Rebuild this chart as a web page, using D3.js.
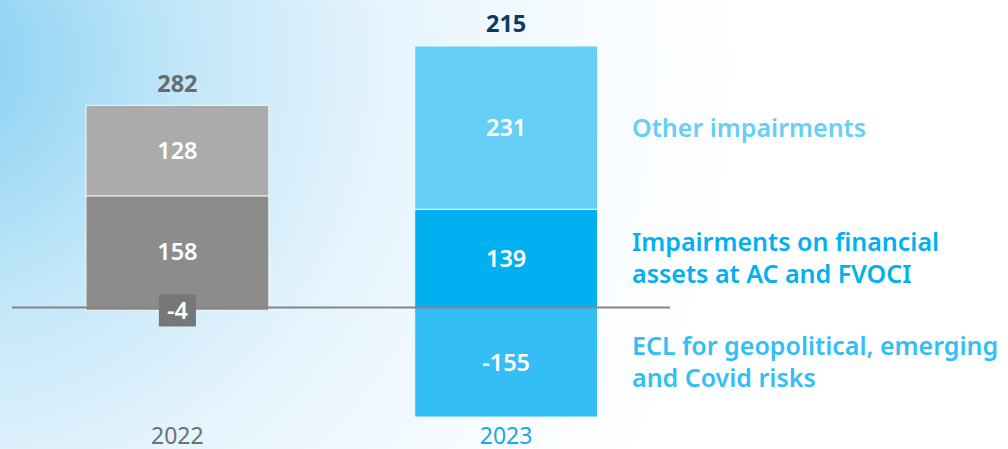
<!DOCTYPE html>
<html>
<head>
<meta charset="utf-8">
<script src="https://cdn.jsdelivr.net/npm/d3@7"></script>
<style>
  html, body { margin: 0; padding: 0; background: #fff; }
  svg { display: block; }
  text { font-family: "Noto Sans", "Open Sans", sans-serif; }
</style>
</head>
<body>
<svg id="chart" width="1008" height="449"></svg>
<script>
// Impairment breakdown by year (EUR m)
const years = ["2022", "2023"];
const seriesKeys = ["ecl", "financial", "other"];
const eclValues = [-4, -155];
const financialValues = [158, 139];
const otherValues = [128, 231];
const totals = [282, 215];
const legendLines = [
  ["Other impairments"],
  ["Impairments on financial", "assets at AC and FVOCI"],
  ["ECL for geopolitical, emerging", "and Covid risks"]
];

// colours: 2022 in greys, 2023 in blues
const palette = {
  "2022": { other: "#ababab", financial: "#8c8c8c", ecl: "#8c8c8c" },
  "2023": { other: "#66cff5", financial: "#00b0f0", ecl: "#33bef5" }
};
const legendColors = ["#66cff5", "#00b0f0", "#33bef5"];
const totalColors = ["#6b6b6b", "#0e3a62"];
const yearColors = ["#707070", "#1aa8e8"];

const rows = years.map((y, i) => ({
  year: y, ecl: eclValues[i], financial: financialValues[i], other: otherValues[i], total: totals[i]
}));

// plain hyphen for negatives
const fmt = v => String(v);

const svg = d3.select("#chart");
const W = 1008, H = 449;

// background wash
const defs = svg.append("defs");
const grad = defs.append("radialGradient")
  .attr("id", "bg").attr("gradientUnits", "userSpaceOnUse")
  .attr("cx", -60).attr("cy", 60).attr("r", 820);
[[0, "#84cff2"], [0.3, "#c2e7f9"], [0.55, "#e6f4fd"], [0.8, "#f8fcff"], [1, "#ffffff"]]
  .forEach(([o, c]) => grad.append("stop").attr("offset", o).attr("stop-color", c));
svg.append("rect").attr("width", W).attr("height", H).attr("fill", "url(#bg)");

const x = d3.scaleBand().domain(years).range([86, 597.5]).paddingInner(0.444).paddingOuter(0);
const y = d3.scaleLinear().domain([-155, 370]).range([417, 46]);

// stacked layout, positive and negative values stacked separately from zero
const stack = d3.stack().keys(seriesKeys).offset(d3.stackOffsetDiverging);
const layers = stack(rows);

const segs = [];
layers.forEach(layer => {
  layer.forEach(d => {
    segs.push({ key: layer.key, year: d.data.year, y0: d[0], y1: d[1], value: d.data[layer.key] });
  });
});

svg.append("g").selectAll("rect").data(segs).join("rect")
  .attr("x", d => x(d.year))
  .attr("width", x.bandwidth())
  .attr("y", d => y(Math.max(d.y0, d.y1)))
  .attr("height", d => Math.abs(y(d.y0) - y(d.y1)))
  .attr("fill", d => palette[d.year][d.key])
  .attr("stroke", "rgba(255,255,255,0.85)")
  .attr("stroke-width", 1);

// zero line
svg.append("line")
  .attr("x1", 12).attr("x2", 670)
  .attr("y1", y(0)).attr("y2", y(0))
  .attr("stroke", "#858585").attr("stroke-width", 2);

// segment value labels
const bigSegs = segs.filter(d => Math.abs(d.value) > 20);
svg.append("g").selectAll("text").data(bigSegs).join("text")
  .attr("x", d => x(d.year) + x.bandwidth() / 2)
  .attr("y", d => (y(d.y0) + y(d.y1)) / 2)
  .attr("dy", "0.36em")
  .attr("text-anchor", "middle")
  .attr("fill", "#fff")
  .attr("font-size", 23.5)
  .attr("font-weight", 600)
  .text(d => fmt(d.value));

// small values get a tag on the zero line
const smallSegs = segs.filter(d => Math.abs(d.value) <= 20);
const tags = svg.append("g").selectAll("g").data(smallSegs).join("g")
  .attr("transform", d => `translate(${x(d.year) + x.bandwidth() / 2},${y(0) + 3})`);
tags.append("rect").attr("x", -18.5).attr("y", -16).attr("width", 37).attr("height", 32).attr("fill", "#777777");
tags.append("text")
  .attr("dy", "0.36em").attr("text-anchor", "middle")
  .attr("fill", "#fff").attr("font-size", 23.5).attr("font-weight", 600)
  .text(d => fmt(d.value));

// totals above bars
svg.append("g").selectAll("text").data(rows).join("text")
  .attr("x", d => x(d.year) + x.bandwidth() / 2)
  .attr("y", d => y(d.ecl < 0 ? d.financial + d.other : d.total) - 22)
  .attr("dy", "0.36em")
  .attr("text-anchor", "middle")
  .attr("fill", (d, i) => totalColors[i])
  .attr("font-size", 23.5)
  .attr("font-weight", 700)
  .text(d => d.total);

// year labels
svg.append("g").selectAll("text").data(years).join("text")
  .attr("x", d => x(d) + x.bandwidth() / 2)
  .attr("y", 436)
  .attr("dy", "0.36em")
  .attr("text-anchor", "middle")
  .attr("fill", (d, i) => yearColors[i])
  .attr("font-size", 23)
  .text(d => d);

// series labels to the right, aligned with the 2023 segments
const lastYear = years[years.length - 1];
const lastSegs = ["other", "financial", "ecl"].map(k => segs.find(s => s.key === k && s.year === lastYear));
const lineH = 32;
legendLines.forEach((lines, i) => {
  const s = lastSegs[i];
  const cy = (y(s.y0) + y(s.y1)) / 2;
  const t = svg.append("text")
    .attr("x", 632)
    .attr("fill", legendColors[i])
    .attr("font-size", 25)
    .attr("font-weight", 600);
  lines.forEach((ln, j) => {
    t.append("tspan")
      .attr("x", 632)
      .attr("y", cy + (j - (lines.length - 1) / 2) * lineH)
      .attr("dy", "0.36em")
      .text(ln);
  });
});
</script>
</body>
</html>
